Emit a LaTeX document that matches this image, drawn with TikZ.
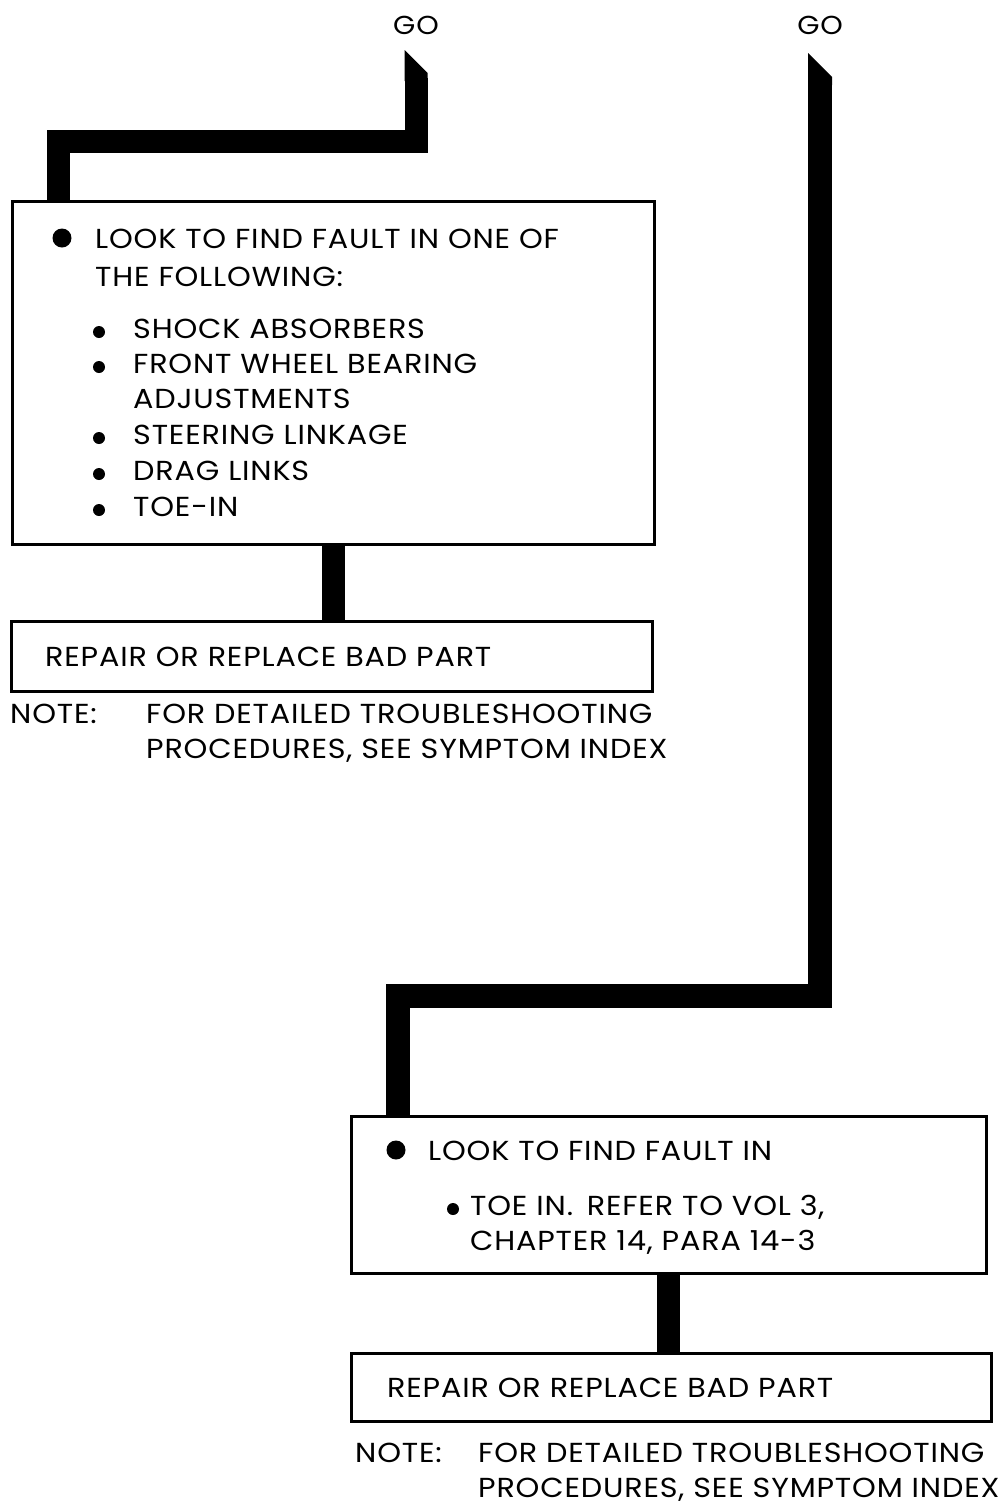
\documentclass[tikz,border=0pt]{standalone}
\usepackage{fontspec}
\setmainfont{Poppins}[FakeStretch=1.1, LetterSpace=3]
\usetikzlibrary{positioning,calc}

\begin{document}
\begin{tikzpicture}[
  x=1pt, y=-1pt,
  every node/.style={font=\fontsize{27.5}{32}\selectfont},
  stepbox/.style={draw, line width=2.5pt, rectangle, anchor=north west, inner sep=0pt},
  txt/.style={anchor=base west, inner sep=0pt},
  golbl/.style={inner sep=0pt, font=\fontsize{26}{30}\selectfont},
  bigdot/.style={circle, fill, minimum size=19pt, inner sep=0pt},
  smalldot/.style={circle, fill, minimum size=12pt, inner sep=0pt},
  wire/.style={line width=23pt, black},
]
  \useasboundingbox (0,0) rectangle (1001,1505);

  % GO entries at the top
  \node[golbl] (goA) at (416,25) {GO};
  \node[golbl] (goB) at (820,25) {GO};
  \coordinate (tipA) at (416,50);
  \coordinate (tipB) at (820,53);

  % First branch
  \node[stepbox, minimum width=642pt, minimum height=343pt] (look1) at (11,200) {};
  \node[bigdot] (d1) at (62,238) {};
  \node[txt] (l1a) at (95,248) {LOOK TO FIND FAULT IN ONE OF};
  \node[txt] (l1b) at (95,286) {THE FOLLOWING:};
  \node[smalldot] (s1) at (99,332) {};
  \node[txt] (i1) at (133,338) {SHOCK ABSORBERS};
  \node[smalldot] (s2) at (99,367) {};
  \node[txt] (i2) at (133,373) {FRONT WHEEL BEARING};
  \node[txt] (i2b) at (133,408) {ADJUSTMENTS};
  \node[smalldot] (s3) at (99,438) {};
  \node[txt] (i3) at (133,444) {STEERING LINKAGE};
  \node[smalldot] (s4) at (99,474) {};
  \node[txt] (i4) at (133,480) {DRAG LINKS};
  \node[smalldot] (s5) at (99,510) {};
  \node[txt] (i5) at (133,516) {TOE-IN};

  \node[stepbox, minimum width=641pt, minimum height=70pt] (fix1) at (10,620) {};
  \node[txt] (f1) at (45,666) {REPAIR OR REPLACE BAD PART};
  \node[txt] (n1) at (10,723) {NOTE:};
  \node[txt] (n1a) at (146,723) {FOR DETAILED TROUBLESHOOTING};
  \node[txt] (n1b) at (146,758) {PROCEDURES, SEE SYMPTOM INDEX};

  % Second branch
  \node[stepbox, minimum width=635pt, minimum height=157pt] (look2) at (350,1115) {};
  \node[bigdot] (d2) at (396,1150) {};
  \node[txt] (l2a) at (428,1160) {LOOK TO FIND FAULT IN};
  \node[smalldot] (s6) at (453,1209) {};
  \node[txt] (j1) at (470,1215) {TOE IN.\enspace REFER TO VOL 3,};
  \node[txt] (j1b) at (470,1250) {CHAPTER 14, PARA 14-3};

  \node[stepbox, minimum width=640pt, minimum height=68pt] (fix2) at (350,1352) {};
  \node[txt] (f2) at (387,1397) {REPAIR OR REPLACE BAD PART};
  \node[txt] (n2) at (355,1462) {NOTE:};
  \node[txt] (n2a) at (478,1462) {FOR DETAILED TROUBLESHOOTING};
  \node[txt] (n2b) at (478,1497) {PROCEDURES, SEE SYMPTOM INDEX};

  % Wires with slanted tops
  \fill (tipA) ++(-11.5,0) -- ++(23,23) -- ++(0,8) -- ++(-23,0) -- cycle;
  \fill (tipB) ++(-12,0) -- ++(24,24) -- ++(0,8) -- ++(-24,0) -- cycle;
  \coordinate (bendA) at (58,141);
  \coordinate (bendB) at (398,996);
  \draw[wire] ($(tipA)+(0,28)$) |- (bendA) -- (bendA |- look1.north);
  \draw[wire, line width=24pt] ($(tipB)+(0,29)$) |- (bendB) -- (bendB |- look2.north);
  \draw[wire] (look1.south) -- (look1.south |- fix1.north);
  \draw[wire] (look2.south) -- (look2.south |- fix2.north);
\end{tikzpicture}
\end{document}
